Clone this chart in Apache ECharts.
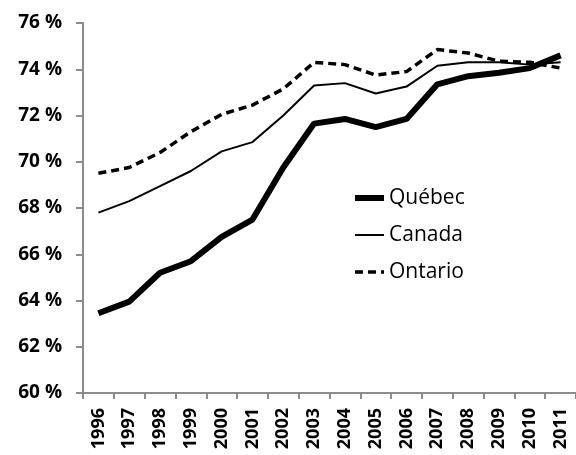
<!DOCTYPE html>
<html>
<head>
<meta charset="utf-8">
<script src="https://cdn.jsdelivr.net/npm/echarts@6/dist/echarts.min.js"></script>
<style>
  html, body { margin: 0; padding: 0; background: #fff; }
  #main { width: 576px; height: 455px; }
</style>
</head>
<body>
<div id="main"></div>
<script>
const years = ['1996', '1997', '1998', '1999', '2000', '2001', '2002', '2003', '2004', '2005', '2006', '2007', '2008', '2009', '2010', '2011']
const quebec = [63.45, 63.95, 65.2, 65.7, 66.75, 67.5, 69.75, 71.65, 71.85, 71.5, 71.85, 73.35, 73.7, 73.85, 74.05, 74.6]
const canada = [67.8, 68.3, 68.95, 69.6, 70.45, 70.85, 72.0, 73.3, 73.4, 72.95, 73.25, 74.15, 74.3, 74.3, 74.2, 74.3]
const ontario = [69.5, 69.75, 70.4, 71.3, 72.05, 72.45, 73.15, 74.3, 74.2, 73.75, 73.9, 74.85, 74.7, 74.35, 74.3, 74.05]

const chartDom = document.getElementById('main')
const myChart = echarts.init(chartDom)

const axisColor = '#8c8c8c'
const labelFont = '"Open Sans", "DejaVu Sans", sans-serif'

const option = {
  animation: false,
  backgroundColor: '#fff',
  grid: {
    left: 83,
    right: -11,
    top: 23,
    bottom: 62
  },
  legend: {
    orient: 'vertical',
    left: 347,
    top: 181,
    itemWidth: 29,
    itemHeight: 2, // keeps the symbol dot hidden under the line
    itemGap: 13,
    lineStyle: { width: 'inherit' },
    textStyle: {
      fontFamily: labelFont,
      fontSize: 21,
      color: '#000',
      lineHeight: 24
    },
    data: ['Québec', 'Canada', 'Ontario']
  },
  xAxis: {
    type: 'category',
    data: years,
    boundaryGap: true,
    axisLine: { lineStyle: { color: axisColor, width: 2 } },
    axisTick: { show: true, length: 6, lineStyle: { color: axisColor, width: 2 } },
    axisLabel: {
      rotate: 90,
      interval: 0,
      margin: 15,
      color: '#000',
      fontFamily: labelFont,
      fontWeight: 'bold',
      fontSize: 18
    }
  },
  yAxis: {
    type: 'value',
    min: 60,
    max: 76,
    interval: 2,
    splitLine: { show: false },
    axisLine: { show: true, lineStyle: { color: axisColor, width: 2 } },
    axisTick: { show: true, length: 7, lineStyle: { color: axisColor, width: 2 } },
    axisLabel: {
      margin: 21,
      color: '#000',
      fontFamily: labelFont,
      fontWeight: 'bold',
      fontSize: 19,
      formatter: v => v + ' %'
    }
  },
  series: [
    {
      name: 'Québec',
      type: 'line',
      symbol: 'none',
      data: quebec,
      lineStyle: { color: '#000', width: 6 },
      itemStyle: { color: '#000' }
    },
    {
      name: 'Canada',
      type: 'line',
      symbol: 'none',
      data: canada,
      lineStyle: { color: '#000', width: 2 },
      itemStyle: { color: '#000' }
    },
    {
      name: 'Ontario',
      type: 'line',
      symbol: 'none',
      data: ontario,
      lineStyle: { color: '#000', width: 3.5, type: [8, 5] },
      itemStyle: { color: '#000' }
    }
  ]
}
option && myChart.setOption(option)
</script>
</body>
</html>
